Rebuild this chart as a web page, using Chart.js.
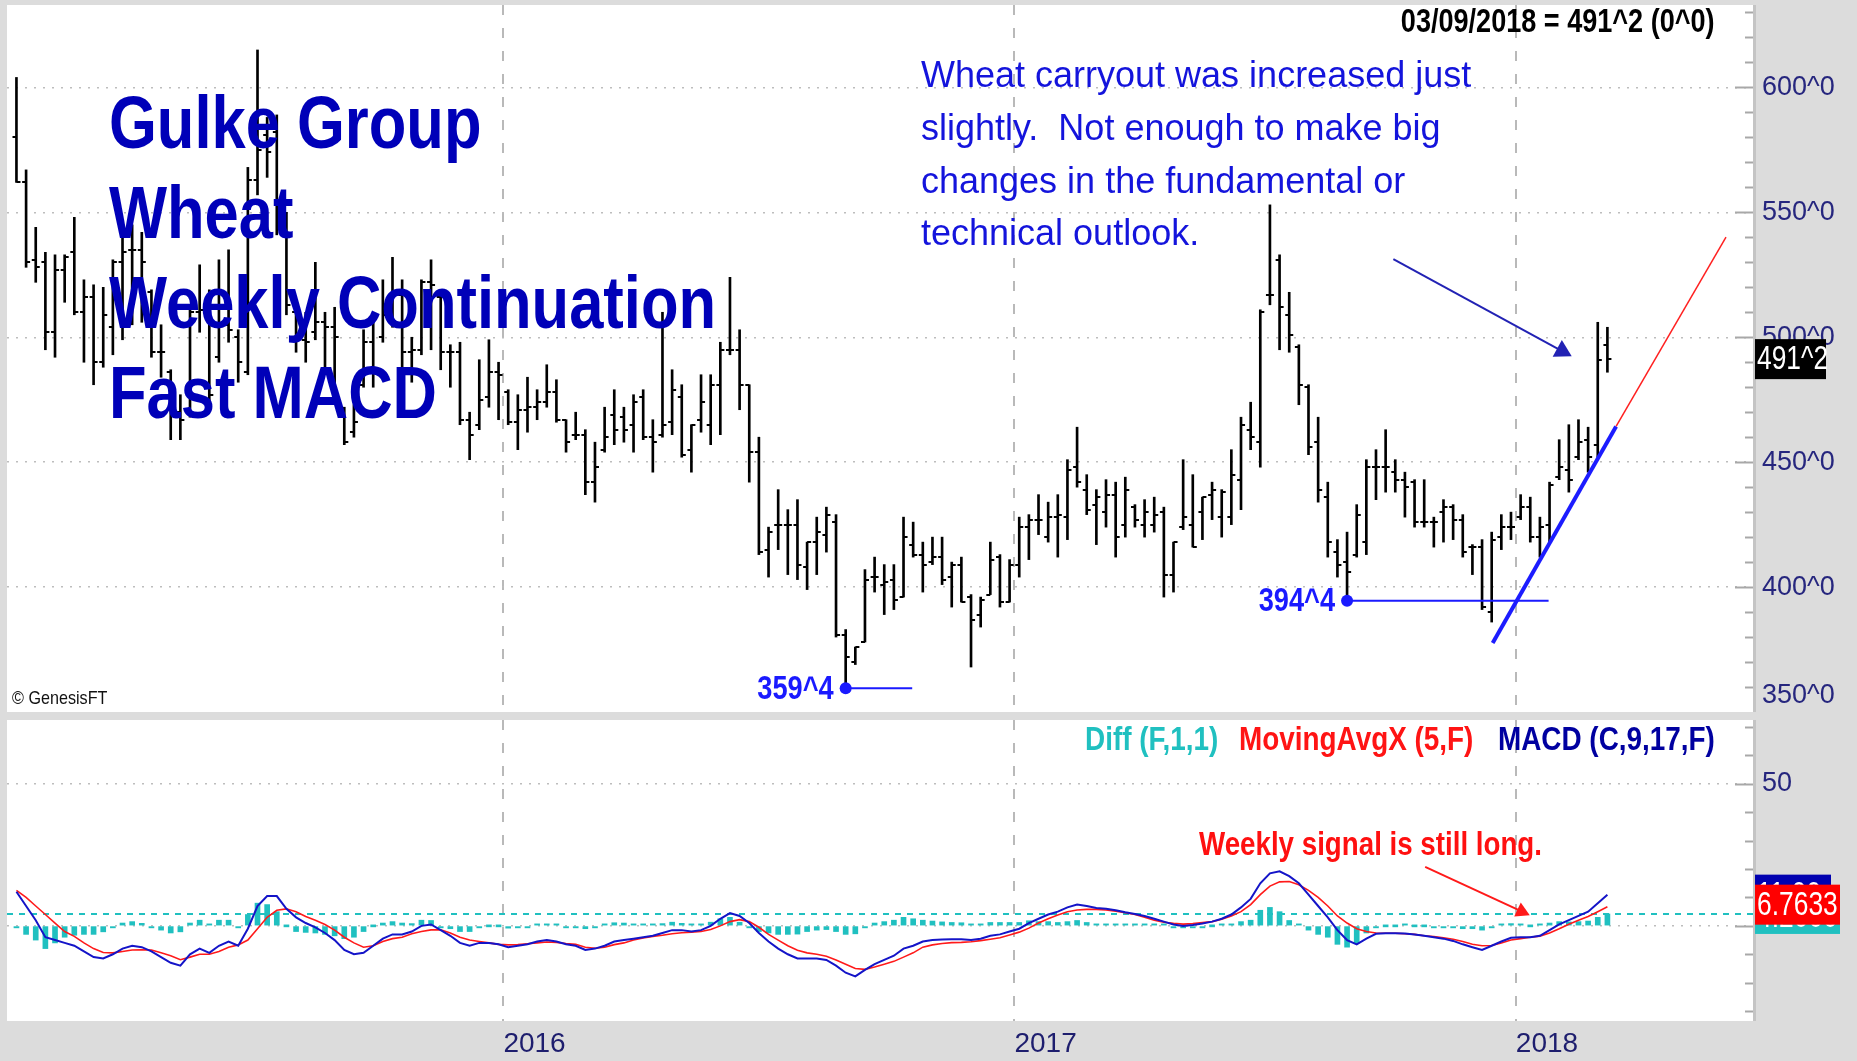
<!DOCTYPE html>
<html>
<head>
<meta charset="utf-8">
<title>Gulke Group Wheat Weekly Continuation Fast MACD</title>
<script src="https://cdn.jsdelivr.net/npm/chart.js@4.4.1/dist/chart.umd.min.js"></script>
<style>
  html, body { margin: 0; padding: 0; }
  body { width: 1857px; height: 1061px; background: #dcdcdc; position: relative; overflow: hidden;
         font-family: "Liberation Sans", Arial, sans-serif; }
  canvas { position: absolute; left: 0; }
  #priceChart { top: 0; z-index: 2; }
  #macdChart { top: 713px; z-index: 1; }
  .txt { position: absolute; white-space: pre; z-index: 3; transform-origin: 0 0; }
  #title { right: 142px; top: 4px; font: bold 33px/33px "Liberation Sans", Arial, sans-serif; color: #000;
           transform: scaleX(0.82); transform-origin: 100% 0; }
  #brand { left: 109px; top: 77px; font: bold 75px/90px "Liberation Sans", Arial, sans-serif; color: #0000b8;
           transform: scaleX(0.82); }
  #note { left: 921px; top: 49px; font: 36px/52.8px "Liberation Sans", Arial, sans-serif; color: #1414dc; }
  .leg { top: 719px; font: bold 34px/38px "Liberation Sans", Arial, sans-serif; transform: scaleX(0.82); }
  #signalNote { left: 1199px; top: 825px; font: bold 33px/37px "Liberation Sans", Arial, sans-serif; color: #ff1010;
                transform: scaleX(0.84); }
  #copy { left: 12px; top: 687px; font: 19px/21px "Liberation Sans", Arial, sans-serif; color: #111;
          transform: scaleX(0.85); }
</style>
</head>
<body>
<canvas id="priceChart" width="1857" height="740"></canvas>
<canvas id="macdChart" width="1857" height="348"></canvas>

<div class="txt" id="title">03/09/2018 = 491^2 (0^0)</div>
<div class="txt" id="brand">Gulke Group
Wheat
Weekly Continuation
Fast MACD</div>
<div class="txt" id="note">Wheat carryout was increased just
slightly.  Not enough to make big
changes in the fundamental or
technical outlook.</div>
<div class="txt" id="copy">© GenesisFT</div>
<div class="txt leg" style="left:1085px;color:#20c0c0">Diff (F,1,1)</div>
<div class="txt leg" style="left:1239px;color:#ff1414">MovingAvgX (5,F)</div>
<div class="txt leg" style="left:1498px;color:#0000a0">MACD (C,9,17,F)</div>
<div class="txt" id="signalNote">Weekly signal is still long.</div>

<script>
// weekly wheat bars, one per week (index 0 = first week on the chart, 165 = week of 03/09/2018)
const opens = [
  580,562,531,530,502,527,534,510,516,490, 504,530,535,535,518,494,486,470,470,510,
  511,492,505,500,486,563,581,582,545,510, 499,502,506,504,470,462,481,498,500,509,
  517,494,495,522,516,494,494,467,465,476, 486,478,466,471,472,474,478,467,461,461,
  442,455,469,468,465,476,460,461,466,476, 455,467,465,481,495,495,481,454,415,425,
  425,425,408,418,421,426,381,370,378,404, 401,403,396,417,413,410,412,404,409,396,
  389,397,412,394,409,424,427,420,428,428, 448,439,433,430,437,425,432,425,425,430,
  405,424,425,430,437,428,428,443,463,458, 517,531,509,496,480,458,436,414,410,413,
  418,448,448,446,443,442,426,426,430,432, 427,416,416,390,420,424,428,432,420,425,
  444,447,452,459,457,497
];
const highs = [
  604,567,544,534,533,533,548,523,521,520, 531,541,545,542,519,505,487,477,511,529,
  519,531,535,503,568,615,588,589,550,513, 510,530,510,512,472,473,503,507,523,532,
  523,500,523,531,517,497,498,470,491,499, 490,479,477,484,479,489,483,467,470,463,
  458,472,479,472,477,479,467,510,487,481, 465,485,485,498,524,503,481,460,424,439,
  431,435,418,428,432,429,383,376,407,412, 409,409,428,426,418,420,420,410,412,397,
  396,418,413,411,428,429,437,434,437,451, 464,445,439,443,442,444,433,435,436,432,
  418,451,445,436,442,439,455,468,474,511, 553,533,518,497,481,468,442,419,422,433,
  451,455,463,451,446,443,443,428,435,433, 429,417,419,422,429,430,437,436,428,442,
  459,465,467,464,506,504
];
const lows = [
  562,528,522,495,492,514,509,490,481,488, 493,499,505,506,492,484,459,459,468,502,
  472,490,498,482,485,557,564,541,509,494, 490,499,485,480,457,460,480,480,498,504,
  481,482,493,495,487,480,465,451,463,472, 467,465,455,462,467,472,466,454,459,437,
  434,454,457,458,454,459,446,460,461,452, 446,462,457,461,493,471,442,413,404,415,
  405,403,399,405,414,380,359.5,369,378,398, 389,391,396,412,398,409,401,392,394,368,
  384,397,392,394,404,411,421,418,412,419, 440,429,417,424,412,420,424,420,422,396,
  398,423,416,419,427,420,425,431,455,448, 513,495,494,473,453,434,412,404,394.5,412,
  413,435,438,438,428,424,424,416,418,419, 412,405,391,386,415,419,427,418,412,418,
  443,438,451,446,452,486
];
const closes = [
  562,530,528,502,527,532,510,516,490,509, 530,534,535,530,494,494,471,467,510,511,
  477,505,503,490,563,575,574,545,513,499, 498,506,504,500,458,466,498,486,509,517,
  494,495,522,521,494,494,467,461,475,486, 485,466,471,472,474,478,467,458,461,442,
  448,460,463,463,474,460,458,465,479,453, 465,474,481,495,495,481,454,414,422,425,
  425,409,418,422,429,381,372,376,403,404, 402,395,420,413,409,412,403,409,394,387,
  395,411,394,409,424,427,427,428,429,447, 442,431,436,437,420,439,427,430,429,405,
  418,428,416,436,439,438,445,465,460,510, 517,512,501,481,456,439,418,409,406,429,
  448,448,448,443,440,426,426,426,432,427, 414,416,392,419,424,424,432,420,424,441,
  448,443,458,452,491,491.25
];

// fast MACD panel, same weeks
const macdLine = [
  12,7,2,-4,-5,-6,-7,-9,-11,-11.5, -10,-8,-7,-7.5,-9,-11,-13,-14,-10,-8,
  -9.5,-7,-5.5,-7,-1,7,10.5,10.5,6,3, 1,-0.5,-2.5,-5,-8.5,-10,-9.5,-7,-4.5,-3,
  -3,-2,0,0.5,-1.5,-3.5,-6,-7,-6,-6, -6.5,-7.5,-7,-6.5,-5.5,-5,-5.5,-6.5,-7,-8.5,
  -8,-7,-5.5,-5,-4.5,-4,-3.5,-2.5,-1.5,-1.5, -2,-1.5,0,2.5,4.5,3.5,1,-2.5,-5.5,-8,
  -10,-11.5,-11.5,-11.5,-12,-14,-16.5,-17.8,-15.5,-13.5, -12,-10.5,-8,-7,-5.5,-5,-4.8,-4.7,-4.7,-5,
  -4.5,-3.5,-3,-2,-1,1,2.5,4,5,6.5, 7.5,7,6.3,6,5.5,4.8,4.2,3.5,2.5,1.5,
  0.5,0,0.3,0.8,1.5,2.5,4,6.5,9.5,15, 18.5,19.2,17.5,15,11,7,3,-1.5,-5,-6.5,
  -4.5,-2.8,-2.6,-2.6,-2.7,-3,-3.5,-4,-4.5,-5.3, -6.5,-7.5,-8.5,-7,-5.5,-4.2,-4,-4,-3.5,-1.5,
  0.5,2,3.5,5,8,11
];
const signalLine = [
  12.5,10,7,4,1,-2,-3.7,-6,-8,-9.4, -9.5,-9,-8.5,-8.4,-8.5,-9.5,-10.5,-11.9,-11,-10,
  -10,-9,-7.5,-6.7,-5,-1,3,5.5,6,5, 3.3,2,0.5,-1.5,-4,-6,-7.5,-7,-5.5,-4.5,
  -4,-2.8,-2,-1.4,-1.4,-2.5,-4,-5,-5.5,-6, -6.5,-6.7,-6.6,-6.3,-6,-5.7,-5.8,-6.2,-6.5,-7.5,
  -7.9,-7.5,-6.6,-6,-5,-4.3,-3.7,-3.3,-2.8,-2.4, -2.2,-2,-1.3,0,1.5,2.2,1.5,-0.5,-3,-5,
  -7,-8.6,-9.5,-10,-10.7,-12,-13.5,-15,-15.3,-14.5, -13.5,-12.5,-11,-9.5,-7.5,-6.7,-6.2,-5.9,-5.8,-5.6,
  -5.2,-4.7,-4.2,-3.2,-2.2,-0.8,1,2.5,3.8,5, 5.6,5.8,5.8,5.6,5.2,4.6,4,3,2,1.3,
  0.9,0.6,0.8,1.2,1.5,2.3,3.5,5,7.5,11, 14,15.5,15.6,14.5,12.5,10,7,3.5,1,-1,
  -2,-2.5,-2.6,-2.6,-2.8,-3,-3.5,-3.8,-4.2,-4.7, -5.5,-6.5,-7,-6.9,-6,-5,-4.5,-4,-3.6,-2.5,
  -1,0.6,2,3.3,5,6.7633
];
const diffBars = [
  -0.5,-3,-5,-8,-6,-4,-3.3,-3,-3,-2.1, -0.5,1,1.5,0.9,-0.5,-1.5,-2.5,-2.1,1,2,
  0.5,2,2,-0.3,4,8,7.5,5,0,-2, -2.3,-2.5,-3,-3.5,-4.5,-4,-2,0,1,1.5,
  1,0.8,2,1.9,-0.1,-1,-2,-2,-0.5,0, 0,-0.8,-0.4,-0.2,0.5,0.7,0.3,-0.3,-0.5,-1,
  -0.1,0.5,1.1,1,0.5,0.3,0.2,0.8,1.3,0.9, 0.2,0.5,1.3,2.5,3,1.3,-0.5,-2,-2.5,-3,
  -3,-2.9,-2,-1.5,-1.3,-2,-3,-2.8,-0.2,1, 1.5,2,3,2.5,2,1.7,1.4,1.2,1.1,0.6,
  0.7,1.2,1.2,1.2,1.2,1.8,1.5,1.5,1.2,1.5, 1.9,1.2,0.5,0.4,0.3,0.2,0.2,0.5,0.5,0.2,
  -0.4,-0.6,-0.5,-0.4,0,0.2,0.5,1.5,2,5.5, 6.5,5,1.9,0.5,-1.5,-3,-4,-6.5,-7.5,-6,
  -2.5,-0.3,0,0,0.1,0,0,-0.2,-0.3,-0.6, -1,-1,-1.5,-0.1,0.5,0.8,0.5,0,0.1,1,
  1.5,1.4,1.5,1.7,3,4.2
];

// axis ticks
const priceLabels = [350, 400, 450, 500, 550, 600];
const macdLabels = [0, 50];
const yearTicks = [50.5, 103.5, 155.5];
const yearNames = ['2016', '2017', '2018'];

// drawn-on annotations (week index, value)
const lowMarks = [{at: 86, price: 359.5, to: 92.9}, {at: 138, price: 394.5, to: 158.9}];
const trendX = [153.1, 165.9, 177.3];
const trendY = [377.6, 464.3, 540.1];
const noteArrowX = [142.8, 160.3];
const noteArrowY = [531.3, 494.5];
const signalArrowX = [146.1, 156.1];
const signalArrowY = [20.8, 5.1];

const xMin = -0.98, xMax = 180.1;
const sans = '"Liberation Sans", Arial, sans-serif';

function fmtPrice(v) {
  const w = Math.floor(v);
  return w + '^' + Math.round((v - w) * 8);
}

// condensed canvas text (the original uses a narrow face)
function narrowText(ctx, text, x, y, align) {
  ctx.save();
  ctx.translate(x, y);
  ctx.scale(0.8, 1);
  ctx.textAlign = align;
  ctx.textBaseline = 'middle';
  ctx.fillText(text, 0, 0);
  ctx.restore();
}

function tickImage(side) {
  const c = document.createElement('canvas');
  c.width = 14; c.height = 2;
  const g = c.getContext('2d');
  g.fillStyle = '#000';
  if (side === 'left') g.fillRect(3, 0, 4, 2); else g.fillRect(7, 0, 4, 2);
  return c;
}

function fillPanel(chart) {
  const {ctx, chartArea: a} = chart;
  ctx.save();
  ctx.fillStyle = '#ffffff';
  ctx.fillRect(a.left, a.top, a.right - a.left, a.bottom - a.top);
  ctx.restore();
}

function drawAxisMarks(chart, scale, from, to, step, major) {
  const {ctx, chartArea: a} = chart;
  ctx.save();
  ctx.strokeStyle = '#a8a8a8';
  ctx.lineWidth = 2;
  for (let v = from; v <= to; v += step) {
    const py = Math.round(scale.getPixelForValue(v)) + 0.5;
    const len = v % major === 0 ? 18 : 8;
    ctx.beginPath();
    ctx.moveTo(a.right - len, py);
    ctx.lineTo(a.right, py);
    ctx.stroke();
  }
  ctx.strokeStyle = '#c4c4c4';
  ctx.lineWidth = 3;
  ctx.beginPath();
  ctx.moveTo(a.right + 1.5, a.top);
  ctx.lineTo(a.right + 1.5, a.bottom);
  ctx.stroke();
  ctx.restore();
}

function valueBox(ctx, a, py, h, w, fill, text) {
  ctx.fillStyle = fill;
  ctx.fillRect(a.right + 2, py - h / 2, w, h);
  ctx.fillStyle = '#ffffff';
  ctx.font = '33px ' + sans;
  narrowText(ctx, text, a.right + 4, py + 1, 'left');
}

const priceFrame = {
  id: 'priceFrame',
  beforeDraw(chart) { fillPanel(chart); },
  afterDraw(chart) {
    const {ctx, chartArea: a, scales: {x, y}} = chart;
    drawAxisMarks(chart, y, 360, 630, 10, 50);
    ctx.save();
    ctx.font = 'bold 34px ' + sans;
    ctx.fillStyle = '#1a1aff';
    lowMarks.forEach(m => {
      narrowText(ctx, fmtPrice(m.price), x.getPixelForValue(m.at) - 12, y.getPixelForValue(m.price) + 1, 'right');
    });
    const last = closes[closes.length - 1];
    valueBox(ctx, a, y.getPixelForValue(last), 40, 71, '#000000', fmtPrice(last));
    ctx.restore();
  }
};

const macdFrame = {
  id: 'macdFrame',
  beforeDraw(chart) { fillPanel(chart); },
  afterDraw(chart) {
    const {ctx, chartArea: a, scales: {y}} = chart;
    drawAxisMarks(chart, y, -30, 70, 10, 50);
    ctx.save();
    const lastDiff = diffBars[diffBars.length - 1];
    const lastMacd = macdLine[macdLine.length - 1];
    const lastSig = signalLine[signalLine.length - 1];
    valueBox(ctx, a, y.getPixelForValue(lastDiff) + 3, 34, 85, '#20c0c0', lastDiff.toFixed(4));
    valueBox(ctx, a, y.getPixelForValue(lastMacd), 40, 76, '#0000b0', lastMacd.toFixed(2));
    valueBox(ctx, a, y.getPixelForValue(lastSig) - 2, 40, 85, '#ff0000', lastSig.toFixed(4));
    ctx.restore();
  }
};

const openImg = tickImage('left');
const closeImg = tickImage('right');
const pts = (xs, ys) => xs.map((v, i) => ({x: v, y: ys[i]}));

const xGrid = {
  type: 'linear', min: xMin, max: xMax, offset: false,
  afterBuildTicks: s => { s.ticks = yearTicks.map(v => ({value: v})); },
  grid: {color: '#b9b9b9', lineWidth: 2, drawTicks: false, offset: false},
  border: {display: false, dash: [10, 13]}
};

function yFit(s) {
  s.width = 104;
  s.paddingTop = 0;
  s.paddingBottom = 0;
}

new Chart(document.getElementById('priceChart'), {
  type: 'bar',
  data: {
    datasets: [
      {
        type: 'bar', label: 'range',
        data: highs.map((h, i) => ({x: i, y: [lows[i], h]})),
        backgroundColor: '#000000', barThickness: 2, grouped: false, order: 6
      },
      {
        type: 'scatter', label: 'open',
        data: opens.map((v, i) => ({x: i, y: v})),
        pointStyle: openImg, pointRadius: 3, order: 5
      },
      {
        type: 'scatter', label: 'close',
        data: closes.map((v, i) => ({x: i, y: v})),
        pointStyle: closeImg, pointRadius: 3, order: 5
      },
      ...lowMarks.map(m => ({
        type: 'line',
        data: [{x: m.at, y: m.price}, {x: m.to, y: m.price}],
        borderColor: '#1a1aff', borderWidth: 2,
        pointRadius: c => c.dataIndex === 0 ? 6 : 0,
        pointBackgroundColor: '#1a1aff', pointBorderWidth: 0, order: 3
      })),
      {
        type: 'line', data: pts(trendX.slice(0, 2), trendY.slice(0, 2)),
        borderColor: '#1c1cff', borderWidth: 4, pointRadius: 0, order: 2
      },
      {
        type: 'line', data: pts(trendX.slice(1), trendY.slice(1)),
        borderColor: '#ff2020', borderWidth: 1.5, pointRadius: 0, order: 2
      },
      {
        type: 'line', data: pts(noteArrowX, noteArrowY),
        borderColor: '#2222b4', borderWidth: 2,
        pointStyle: 'triangle', rotation: 118.7,
        pointRadius: c => c.dataIndex === 1 ? 11 : 0,
        pointBackgroundColor: '#2222b4', pointBorderWidth: 0, order: 1
      }
    ]
  },
  options: {
    responsive: false, animation: false, devicePixelRatio: 1,
    layout: {autoPadding: false, padding: {left: 7, top: 5, right: 0, bottom: 28}},
    plugins: {legend: {display: false}, tooltip: {enabled: false}},
    scales: {
      x: Object.assign({}, xGrid, {
        ticks: {display: false},
        afterFit: s => { s.height = 0; s.paddingLeft = 0; s.paddingRight = 0; }
      }),
      y: {
        position: 'right', min: 350, max: 633,
        afterBuildTicks: s => { s.ticks = priceLabels.map(v => ({value: v})); },
        afterFit: yFit,
        ticks: {
          padding: 9, color: '#26267e',
          font: {family: sans, size: 27},
          callback: v => v === 350 ? [v + '^0', ''] : v + '^0'
        },
        grid: {color: c => c.tick && c.tick.value === 350 ? 'rgba(0,0,0,0)' : '#bdbdbd', lineWidth: 1.5, drawTicks: false},
        border: {display: false, dash: [2, 7]}
      }
    }
  },
  plugins: [priceFrame]
});

const lastDiffValue = diffBars[diffBars.length - 1];

new Chart(document.getElementById('macdChart'), {
  type: 'bar',
  data: {
    datasets: [
      {
        type: 'bar', label: 'Diff (F,1,1)',
        data: diffBars.map((v, i) => ({x: i, y: v})),
        backgroundColor: '#20c0c0', barThickness: 5, minBarLength: 2, grouped: false, order: 6
      },
      {
        type: 'line', label: 'last diff',
        data: [{x: xMin, y: lastDiffValue}, {x: xMax, y: lastDiffValue}],
        borderColor: '#20c0c0', borderWidth: 2, borderDash: [6, 6], pointRadius: 0, order: 5
      },
      {
        type: 'line', label: 'MovingAvgX (5,F)',
        data: signalLine.map((v, i) => ({x: i, y: v})),
        borderColor: '#ff1a1a', borderWidth: 1.6, pointRadius: 0, tension: 0, order: 3
      },
      {
        type: 'line', label: 'MACD (C,9,17,F)',
        data: macdLine.map((v, i) => ({x: i, y: v})),
        borderColor: '#1414c8', borderWidth: 2, pointRadius: 0, tension: 0, order: 2
      },
      {
        type: 'line', data: pts(signalArrowX, signalArrowY),
        borderColor: '#ff1a1a', borderWidth: 2,
        pointStyle: 'triangle', rotation: 114.8,
        pointRadius: c => c.dataIndex === 1 ? 9 : 0,
        pointBackgroundColor: '#ff1a1a', pointBorderWidth: 0, order: 1
      }
    ]
  },
  options: {
    responsive: false, animation: false, devicePixelRatio: 1,
    layout: {autoPadding: false, padding: {left: 7, top: 7, right: 0, bottom: 0}},
    plugins: {legend: {display: false}, tooltip: {enabled: false}},
    scales: {
      x: Object.assign({}, xGrid, {
        afterFit: s => { s.height = 40; s.paddingLeft = 0; s.paddingRight = 0; },
        ticks: {
          align: 'start', padding: 6, autoSkip: false, maxRotation: 0,
          color: '#1e1e6e', font: {family: sans, size: 28},
          callback: (v, i) => yearNames[i]
        }
      }),
      y: {
        position: 'right', min: -33.5, max: 72.5,
        afterBuildTicks: s => { s.ticks = macdLabels.map(v => ({value: v})); },
        afterFit: yFit,
        ticks: {padding: 9, color: '#26267e', font: {family: sans, size: 27}},
        grid: {color: '#bdbdbd', lineWidth: 1.5, drawTicks: false},
        border: {display: false, dash: [2, 7]}
      }
    }
  },
  plugins: [macdFrame]
});
</script>
</body>
</html>
